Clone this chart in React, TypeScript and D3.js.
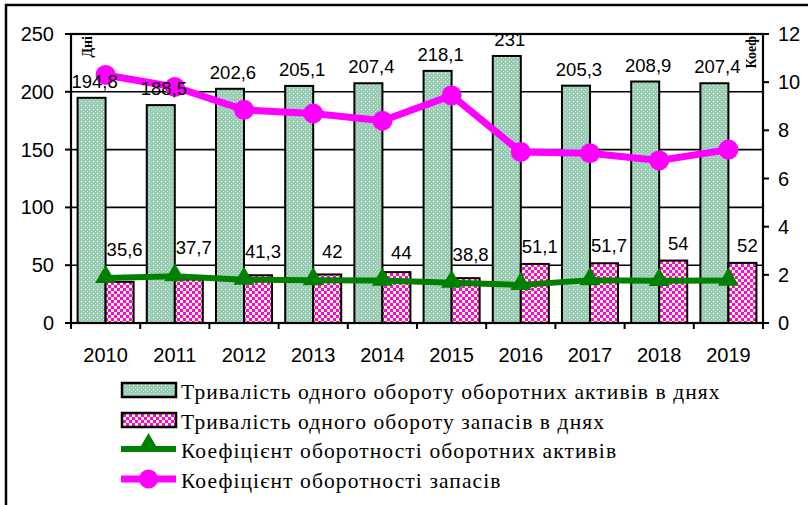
import React from "react";
import * as d3 from "d3";

const years = ["2010", "2011", "2012", "2013", "2014", "2015", "2016", "2017", "2018", "2019"];
const assetDays = [194.8, 188.5, 202.6, 205.1, 207.4, 218.1, 231, 205.3, 208.9, 207.4];
const stockDays = [35.6, 37.7, 41.3, 42, 44, 38.8, 51.1, 51.7, 54, 52];
const assetTurnover = [1.87, 1.94, 1.8, 1.78, 1.76, 1.67, 1.58, 1.78, 1.75, 1.76];
const stockTurnover = [10.3, 9.8, 8.85, 8.7, 8.4, 9.45, 7.1, 7.05, 6.75, 7.2];
const leftTicks = [0, 50, 100, 150, 200, 250];
const rightTicks = [0, 2, 4, 6, 8, 10, 12];
const legendLabels = [
  "Тривалість одного обороту оборотних активів в днях",
  "Тривалість одного обороту запасів в днях",
  "Коефіцієнт оборотності оборотних активів",
  "Коефіцієнт оборотності запасів",
];

const fmt = (v: number) => String(v).replace(".", ",");

export default function App() {
  const left = 71, right = 763, top = 34, bottom = 323;
  const x = d3.scaleBand<string>().domain(years).range([left, right]).padding(0);
  const x1 = d3.scaleBand<string>().domain(["a", "s"]).range([0, x.bandwidth()]).paddingInner(0).paddingOuter(0.235);
  const yL = d3.scaleLinear().domain([0, 250]).range([bottom, top]);
  const yR = d3.scaleLinear().domain([0, 12]).range([bottom, top]);
  const cx = (i: number) => (x(years[i]) as number) + x.bandwidth() / 2;

  const lineGen = d3.line<number>().x((_, i) => cx(i)).y((d) => yR(d));
  const tri = d3.symbol().type(d3.symbolTriangle).size(190);
  const font = "Liberation Sans, Arial, sans-serif";
  const serif = "Liberation Serif, DejaVu Serif, serif";

  const legendY = [390, 420, 449, 479];

  return (
    <svg width={808} height={505} style={{ position: "absolute", left: 0, top: 0 }}>
      <defs>
        <pattern id="pGreen" width={4} height={4} patternUnits="userSpaceOnUse">
          <rect width={4} height={4} fill="#99ccb2" />
          <rect x={1} y={1} width={1} height={1} fill="#eef8f2" />
          <rect x={3} y={3} width={1} height={1} fill="#c0e2d0" />
        </pattern>
        <pattern id="pPink" width={6} height={6} patternUnits="userSpaceOnUse">
          <rect width={6} height={6} fill="#ff00ff" />
          <rect x={0} y={0} width={3} height={3} fill="#ffffa0" />
          <rect x={3} y={3} width={3} height={3} fill="#ffffa0" />
        </pattern>
      </defs>
      <rect x={0} y={0} width={808} height={505} fill="#fff" />
      <rect x={6} y={5} width={820} height={520} fill="none" stroke="#000" strokeWidth={2.5} />

      {/* gridlines */}
      {leftTicks.map((t) => (
        <line key={"g" + t} x1={left} x2={right} y1={yL(t)} y2={yL(t)} stroke="#000" strokeWidth={1.6} />
      ))}

      {/* bars */}
      {years.map((yr, i) => {
        const gx = (x(yr) as number) + (x1("a") as number);
        const px = (x(yr) as number) + (x1("s") as number);
        return (
          <g key={"b" + yr}>
            <rect x={gx} y={yL(assetDays[i])} width={x1.bandwidth()} height={bottom - yL(assetDays[i])}
              fill="url(#pGreen)" stroke="#000" strokeWidth={2} />
            <rect x={px} y={yL(stockDays[i])} width={x1.bandwidth()} height={bottom - yL(stockDays[i])}
              fill="url(#pPink)" stroke="#000" strokeWidth={2} />
          </g>
        );
      })}

      {/* lines */}
      <path d={lineGen(assetTurnover) || ""} fill="none" stroke="#008000" strokeWidth={6} />
      {assetTurnover.map((v, i) => (
        <path key={"t" + i} d={tri() || ""} transform={`translate(${cx(i)},${yR(v) - 1})`} fill="#008000" />
      ))}
      <path d={lineGen(stockTurnover) || ""} fill="none" stroke="#ff00ff" strokeWidth={7} />
      {stockTurnover.map((v, i) => (
        <circle key={"c" + i} cx={cx(i)} cy={yR(v)} r={10} fill="#ff00ff" />
      ))}

      {/* bar labels */}
      {years.map((yr, i) => {
        const gx = (x(yr) as number) + (x1("a") as number) + x1.bandwidth() / 2 + 3;
        const px = (x(yr) as number) + (x1("s") as number) + x1.bandwidth() / 2 + 5;
        const py = Math.min(yL(stockDays[i]) - 11, yR(assetTurnover[i]) - 22);
        return (
          <g key={"l" + yr} fontFamily={font} fontSize={18.5} textAnchor="middle" fill="#000">
            <text x={gx} y={yL(assetDays[i]) - 10}>{fmt(assetDays[i])}</text>
            <text x={px} y={py}>{fmt(stockDays[i])}</text>
          </g>
        );
      })}

      {/* frame */}
      <rect x={left} y={top} width={right - left} height={bottom - top} fill="none" stroke="#000" strokeWidth={2.2} />

      {/* left axis */}
      {leftTicks.map((t) => (
        <g key={"lt" + t}>
          <line x1={left - 6} x2={left} y1={yL(t)} y2={yL(t)} stroke="#000" strokeWidth={2} />
          <text x={54} y={yL(t) + 7} textAnchor="end" fontFamily={font} fontSize={20}>{t}</text>
        </g>
      ))}
      {/* right axis */}
      {rightTicks.map((t) => (
        <g key={"rt" + t}>
          <line x1={right} x2={right + 6} y1={yR(t)} y2={yR(t)} stroke="#000" strokeWidth={2} />
          <text x={778} y={yR(t) + 7} textAnchor="start" fontFamily={font} fontSize={20}>{t}</text>
        </g>
      ))}
      {/* x axis */}
      {years.map((yr) => (
        <line key={"xt" + yr} x1={x(yr) as number} x2={x(yr) as number} y1={bottom} y2={bottom + 6} stroke="#000" strokeWidth={2} />
      ))}
      <line x1={right} x2={right} y1={bottom} y2={bottom + 6} stroke="#000" strokeWidth={2} />
      {years.map((yr, i) => (
        <text key={"xl" + yr} x={cx(i)} y={362} textAnchor="middle" fontFamily={font} fontSize={20}>{yr}</text>
      ))}

      {/* axis titles */}
      <text transform={`translate(92,36) rotate(-90)`} textAnchor="end" fontFamily={serif} fontWeight="bold" fontSize={14}>Дні</text>
      <text transform={`translate(756,36) rotate(-90)`} textAnchor="end" fontFamily={serif} fontWeight="bold" fontSize={14}>Коеф</text>

      {/* legend */}
      <g>
        <rect x={122} y={legendY[0] - 7} width={54} height={14} fill="url(#pGreen)" stroke="#000" strokeWidth={2.5} />
        <rect x={122} y={legendY[1] - 7} width={54} height={14} fill="url(#pPink)" stroke="#000" strokeWidth={2.5} />
        <line x1={121} x2={176} y1={legendY[2]} y2={legendY[2]} stroke="#008000" strokeWidth={6} />
        <path d={tri() || ""} transform={`translate(148.5,${legendY[2] - 4})`} fill="#008000" />
        <line x1={121} x2={176} y1={legendY[3]} y2={legendY[3]} stroke="#ff00ff" strokeWidth={7} />
        <circle cx={148.5} cy={legendY[3]} r={9.5} fill="#ff00ff" />
        {legendLabels.map((l, i) => (
          <text key={"lg" + i} x={181} y={legendY[i] + 8.5} fontFamily={serif} fontSize={21.5} letterSpacing={1.1}>{l}</text>
        ))}
      </g>
    </svg>
  );
}
